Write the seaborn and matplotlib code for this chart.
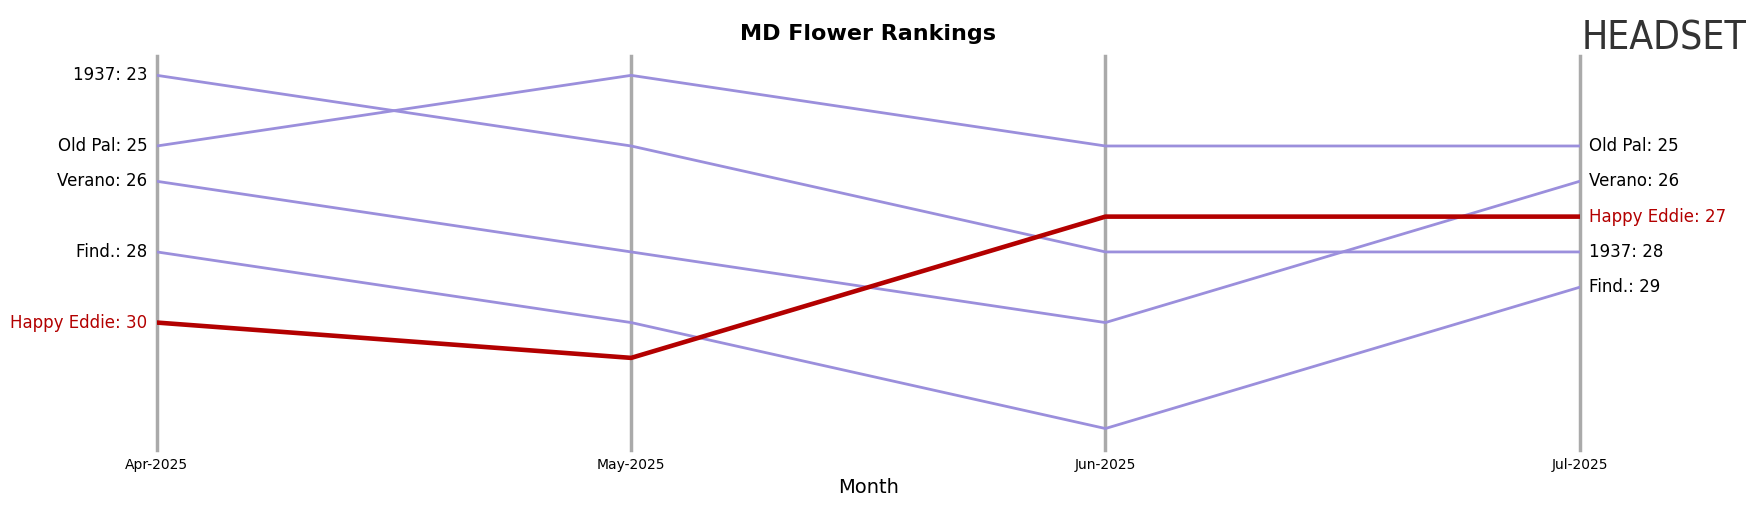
import numpy as np
import pandas as pd
import seaborn as sns
import matplotlib.pyplot as plt

months = ['Apr-2025', 'May-2025', 'Jun-2025', 'Jul-2025']
brands = ['1937', 'Old Pal', 'Verano', 'Find.', 'Happy Eddie']
rank_1937 = [23, 25, 28, 28]
rank_oldpal = [25, 23, 25, 25]
rank_verano = [26, 28, 30, 26]
rank_find = [28, 30, 33, 29]
rank_happy = [30, 31, 27, 27]
ranks = [rank_1937, rank_oldpal, rank_verano, rank_find, rank_happy]
highlight = 'Happy Eddie'

df = pd.DataFrame([
    {'Month': m, 'Brand': b, 'Rank': r}
    for b, rr in zip(brands, ranks) for m, r in zip(months, rr)
])

fig = plt.figure(figsize=(17.63, 5.07), dpi=100)
ax = fig.add_axes([0.089, 0.113, 0.807, 0.776])

for i in range(len(months)):
    ax.axvline(i, color='#aaaaaa', lw=2.5, zorder=0, clip_on=False)

palette = {b: ('#b30000' if b == highlight else '#9b8fdc') for b in brands}
sizes = {b: (3.3 if b == highlight else 2.0) for b in brands}
sns.lineplot(data=df, x='Month', y='Rank', hue='Brand', palette=palette,
             size='Brand', sizes=sizes, legend=False, ax=ax, sort=False)

for b, rr in zip(brands, ranks):
    c = '#b30000' if b == highlight else 'black'
    ax.text(-0.02, rr[0], f'{b}: {rr[0]}', ha='right', va='center', fontsize=12, color=c)
    ax.text(3.02, rr[-1], f'{b}: {rr[-1]}', ha='left', va='center', fontsize=12, color=c)

ax.set_xlim(0, 3)
ax.set_ylim(33.6, 22.46)
ax.set_yticks([])
ax.set_xticks(range(len(months)))
ax.set_xticklabels(months, fontsize=10)
ax.tick_params(axis='x', length=0, pad=6)
ax.set_xlabel('Month', fontsize=14)
ax.set_ylabel('')
for s in ax.spines.values():
    s.set_visible(False)
ax.set_title('MD Flower Rankings', fontsize=16, fontweight='bold', pad=12)
fig.text(0.897, 0.925, 'HEADSET', fontsize=28, color='#333333', va='center',
         fontstretch='condensed')

fig.savefig('out.png', dpi=100)
